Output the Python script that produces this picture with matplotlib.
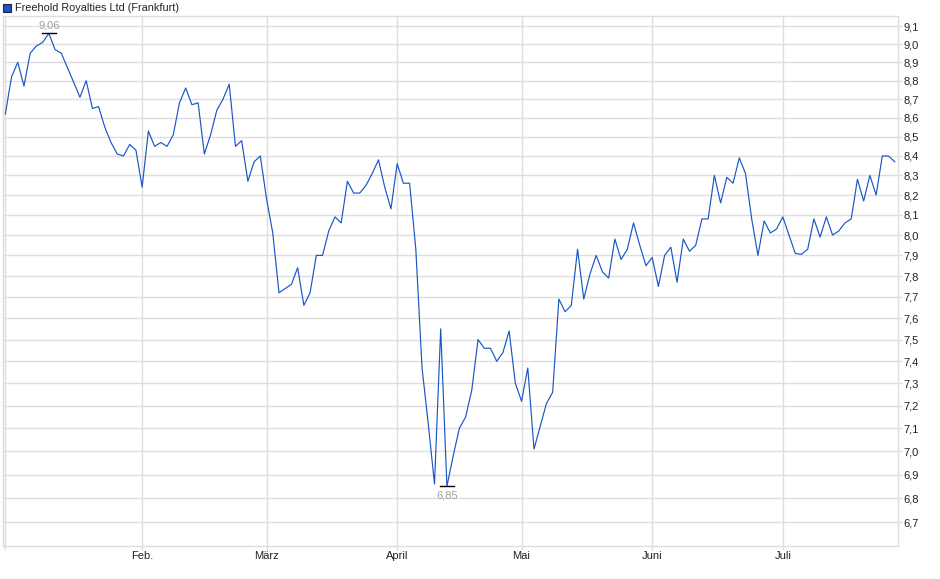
import matplotlib
matplotlib.use("Agg")
import matplotlib.pyplot as plt
from matplotlib.ticker import FixedLocator, NullLocator, FixedFormatter
import numpy as np

plt.rcParams['font.family'] = ['Liberation Sans', 'DejaVu Sans']

# daily closes (Frankfurt), trading days Jan 2 .. Jul 25
jan = [8.62, 8.82, 8.90, 8.77, 8.95, 8.99, 9.01, 9.06, 8.97, 8.95, 8.87,
       8.79, 8.71, 8.80, 8.65, 8.66, 8.55, 8.47, 8.41, 8.40, 8.46, 8.43]
feb = [8.24, 8.53, 8.45, 8.47, 8.45, 8.51, 8.68, 8.76, 8.67, 8.68, 8.41,
       8.51, 8.64, 8.70, 8.78, 8.45, 8.48, 8.27, 8.37, 8.40]
mar = [8.18, 8.01, 7.72, 7.74, 7.76, 7.84, 7.66, 7.72, 7.90, 7.90, 8.02,
       8.09, 8.06, 8.27, 8.21, 8.21, 8.25, 8.31, 8.38, 8.24, 8.13]
apr = [8.36, 8.26, 8.26, 7.93, 7.37, 7.12, 6.86, 7.55, 6.85, 6.98, 7.10,
       7.15, 7.27, 7.50, 7.46, 7.46, 7.40, 7.44, 7.54, 7.30]
may = [7.22, 7.37, 7.01, 7.11, 7.21, 7.26, 7.69, 7.63, 7.66, 7.93, 7.69,
       7.81, 7.90, 7.82, 7.79, 7.98, 7.88, 7.93, 8.06, 7.95, 7.85]
jun = [7.89, 7.75, 7.90, 7.94, 7.77, 7.98, 7.92, 7.95, 8.08, 8.08, 8.30,
       8.16, 8.29, 8.26, 8.39, 8.31, 8.08, 7.90, 8.07, 8.01, 8.03]
jul = [8.09, 8.00, 7.91, 7.905, 7.93, 8.08, 7.99, 8.09, 8.00, 8.02, 8.06,
       8.08, 8.28, 8.17, 8.30, 8.20, 8.40, 8.40, 8.37]

months = ["Feb.", "März", "April", "Mai", "Juni", "Juli"]
month_len = [len(jan), len(feb), len(mar), len(apr), len(may), len(jun)]
yticks = [6.7, 6.8, 6.9, 7.0, 7.1, 7.2, 7.3, 7.4, 7.5, 7.6, 7.7, 7.8, 7.9,
          8.0, 8.1, 8.2, 8.3, 8.4, 8.5, 8.6, 8.7, 8.8, 8.9, 9.0, 9.1]

prices = np.array(jan + feb + mar + apr + may + jun + jul)
x = np.arange(len(prices))
month_pos = list(np.cumsum(month_len))

grid_c = "#dedede"
line_c = "#1a56c4"

fig = plt.figure(figsize=(9.4, 5.79), dpi=100)
ax = fig.add_axes([2.7 / 940, 1 - 545.7 / 579, (898.3 - 2.7) / 940, (545.7 - 16) / 579])

ax.set_yscale("log")
ax.set_ylim(6.604, 9.158)
ax.set_xlim(-0.42, 143.57)

ax.yaxis.set_major_locator(FixedLocator(yticks))
ax.yaxis.set_minor_locator(NullLocator())
ax.yaxis.set_major_formatter(FixedFormatter([f"{v:.1f}".replace(".", ",") for v in yticks]))
ax.yaxis.tick_right()

ax.xaxis.set_major_locator(FixedLocator([0] + month_pos))
ax.xaxis.set_major_formatter(FixedFormatter([""] + months))

ax.grid(True, color=grid_c, linewidth=1)
ax.set_axisbelow(True)
for s in ax.spines.values():
    s.set_color(grid_c)
    s.set_linewidth(1)
ax.tick_params(axis="both", length=3, width=1, color=grid_c, labelsize=8, labelcolor="#222222")
ax.tick_params(axis="x", pad=1)
ax.tick_params(axis="y", pad=1)

ax.plot(x, prices, color=line_c, linewidth=0.85)

# high / low markers
imax = int(np.argmax(prices))
imin = int(np.argmin(prices))
ax.plot([imax - 1.1, imax + 1.1], [prices[imax]] * 2, color="black", linewidth=1)
ax.plot([imin - 1.1, imin + 1.1], [prices[imin]] * 2, color="black", linewidth=1)
ax.annotate(f"{prices[imax]:.2f}".replace(".", ","), (imax, prices[imax]), xytext=(0, 2),
            textcoords="offset points", ha="center", va="bottom", fontsize=8, color="#a0a0a0")
ax.annotate(f"{prices[imin]:.2f}".replace(".", ","), (imin, prices[imin]), xytext=(0, -3),
            textcoords="offset points", ha="center", va="top", fontsize=8, color="#a0a0a0")

# legend box
fig.patches.append(plt.Rectangle((3 / 940, 1 - 12 / 579), 8 / 940, 8 / 579, transform=fig.transFigure,
                                 facecolor=line_c, edgecolor="#222244", linewidth=0.8))
fig.text(15 / 940, 1 - 8 / 579, "Freehold Royalties Ltd (Frankfurt)", fontsize=7.8,
         color="#222222", va="center", ha="left")

fig.savefig("out.png", dpi=100)
